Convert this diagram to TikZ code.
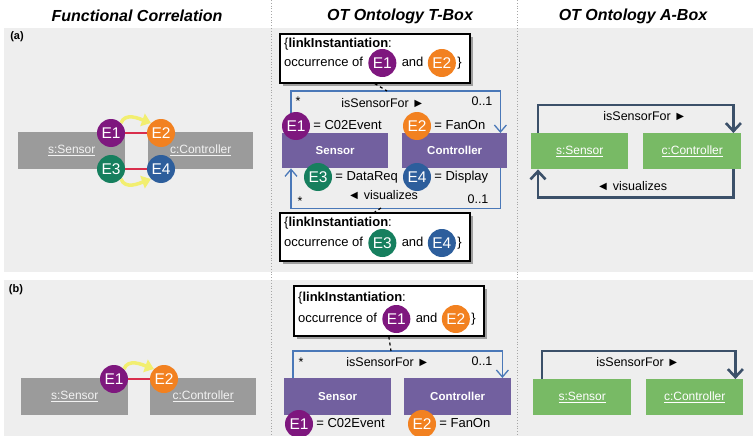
\documentclass[tikz,border=0pt]{standalone}
\usepackage{fontspec}
\setmainfont{Liberation Sans}
\usetikzlibrary{positioning,arrows.meta}

\definecolor{panelgray}{HTML}{EEEEEE}
\definecolor{boxgray}{HTML}{9B9B9B}
\definecolor{ecpurple}{HTML}{7E177E}
\definecolor{ecorange}{HTML}{F28120}
\definecolor{ecgreen}{HTML}{167F5E}
\definecolor{ecblue}{HTML}{2D5E9C}
\definecolor{corrred}{HTML}{D92E4C}
\definecolor{flowyellow}{HTML}{F2EE70}
\definecolor{tboxpurple}{HTML}{72609F}
\definecolor{tboxline}{HTML}{4A78B8}
\definecolor{aboxgreen}{HTML}{78BA65}
\definecolor{aboxline}{HTML}{3B5069}

\begin{document}
\begin{tikzpicture}[x=1pt,y=-1pt,
  title/.style={font=\fontsize{16}{18}\selectfont\bfseries\itshape},
  tag/.style={font=\fontsize{11}{13}\selectfont\bfseries},
  inst/.style={fill=boxgray,text=white!90!gray,minimum height=37pt,anchor=north west,font=\fontsize{12}{14}\selectfont},
  cls/.style={fill=tboxpurple,text=white,minimum height=35pt,anchor=north west,font=\fontsize{11.5}{14}\selectfont\bfseries},
  abox/.style={fill=aboxgreen,text=white,minimum height=36pt,anchor=north west,font=\fontsize{12}{14}\selectfont},
  ev/.style={circle,fill=#1,text=white,minimum size=28pt,inner sep=0pt,font=\fontsize{15.5}{15.5}\selectfont},
  txt/.style={inner sep=0pt,text height=9.5pt,text depth=2.5pt,font=\fontsize{13}{15}\selectfont},
  lbl/.style={inner sep=0pt,font=\fontsize{12.5}{15}\selectfont},
  note/.style={draw,line width=1.6pt,fill=white,minimum width=190pt,minimum height=49pt,anchor=north west},
  shade/.style={fill=gray!75},
  corr/.style={corrred,line width=2.6pt},
  flow/.style={flowyellow,line width=3.5pt,-{Triangle[length=9pt,width=13pt]}},
  tline/.style={tboxline,line width=1.3pt,-{Straight Barb[length=7pt,width=12pt]}},
  aline/.style={aboxline,line width=2.6pt,-{Straight Barb[length=8pt,width=15pt]}},
  link/.style={dashed,line width=1.2pt}]
\useasboundingbox (0,0) rectangle (753,436);
\fill[panelgray] (4,28) rectangle (753,272);
\fill[panelgray] (4,280) rectangle (753,436);
\draw[gray!70,dotted,line width=0.8pt] (271,0) -- (271,436);
\draw[gray!70,dotted,line width=0.8pt] (517,0) -- (517,436);

\node[title] (t1) at (137,16) {Functional Correlation};
\node[title] (t2) at (400,16) {OT Ontology T-Box};
\node[title] (t3) at (633,16) {OT Ontology A-Box};
\node[tag] (ta) at (17,37) {(a)};
\node[tag] (tb) at (16,290) {(b)};

\node[inst,minimum width=107pt] (s1) at (18,132) {\underline{s:Sensor}};
\node[inst,minimum width=105pt] (c1) at (148,132) {\underline{c:Controller}};
\node[ev=ecpurple] (e1) at (111,133) {E1};
\node[ev=ecorange] (e2) at (161,133) {E2};
\node[ev=ecgreen] (e3) at (111,169) {E3};
\node[ev=ecblue] (e4) at (161,169) {E4};
\draw[corr] (e1) -- (e2);
\draw[corr] (e3) -- (e4);
\draw[flow] (e1.north east) to[out=70,in=160] (e2.north west);
\draw[flow] (e3.south east) to[out=-70,in=-160] (e4.south west);

\node[cls,minimum width=106pt] (s2) at (282,133) {Sensor};
\node[cls,minimum width=105pt] (c2) at (402,133) {Controller};
\draw[tline] ([xshift=9pt]s2.north west) -- ++(0,-42) -| ([xshift=-7pt]c2.north east);
\draw[tline] ([xshift=-7pt]c2.south east) -- ++(0,40) -| ([xshift=9pt]s2.south west);
\node[lbl] (m1) at (298,101) {*};
\node[lbl] (r1) at (383,103) {isSensorFor ►};
\node[lbl] (k1) at (482,101) {0..1};
\node[ev=ecpurple] (e5) at (296,126) {E1};
\node[txt,right=3pt of e5] (v1) {= C02Event};
\node[ev=ecorange] (e6) at (417,126) {E2};
\node[txt,right=3pt of e6] (v2) {= FanOn};
\node[ev=ecgreen] (e7) at (318,177) {E3};
\node[txt,right=3pt of e7] (v3) {= DataReq};
\node[ev=ecblue] (e8) at (417,177) {E4};
\node[txt,right=3pt of e8] (v4) {= Display};
\node[lbl] (r2) at (383,195) {◄ visualizes};
\node[lbl] (m2) at (300,201) {*};
\node[lbl] (k2) at (478,199) {0..1};

\fill[shade] (283,37) rectangle (473,86);
\node[note] (n1) at (279,33) {};
\coordinate (d1) at (387,91);
\draw[link] (n1.south) -- (d1);
\node[txt,anchor=west] (n1a) at (284,44) {\{\textbf{linkInstantiation}:};
\node[txt,anchor=west] (n1b) at (284,63) {occurrence of};
\node[ev=ecpurple,right=5pt of n1b] (n1c) {E1};
\node[txt,right=5pt of n1c] (n1d) {and};
\node[ev=ecorange,right=4pt of n1d] (n1e) {E2};
\node[txt,right=1pt of n1e] (n1f) {\}};

\coordinate (d2) at (381,208);
\fill[shade] (283,216) rectangle (473,264);
\node[note,minimum height=48pt] (n2) at (279,212) {};
\draw[link] (d2) -- (n2.north);
\node[txt,anchor=west] (n2a) at (284,223) {\{\textbf{linkInstantiation}:};
\node[txt,anchor=west] (n2b) at (284,243) {occurrence of};
\node[ev=ecgreen,right=5pt of n2b] (n2c) {E3};
\node[txt,right=5pt of n2c] (n2d) {and};
\node[ev=ecblue,right=4pt of n2d] (n2e) {E4};
\node[txt,right=1pt of n2e] (n2f) {\}};

\node[abox,minimum width=97pt] (s3) at (531,133) {\underline{s:Sensor}};
\node[abox,minimum width=98pt] (c3) at (643,133) {\underline{c:Controller}};
\draw[aline] ([xshift=7pt]s3.north west) -- ++(0,-28) -| ([xshift=-8pt]c3.north east);
\draw[aline] ([xshift=-8pt]c3.south east) -- ++(0,28) -| ([xshift=7pt]s3.south west);
\node[lbl] (r3) at (645,116) {isSensorFor ►};
\node[lbl] (r4) at (632,186) {◄ visualizes};

\node[inst,minimum width=107pt] (s4) at (21,378) {\underline{s:Sensor}};
\node[inst,minimum width=106pt] (c4) at (150,378) {\underline{c:Controller}};
\node[ev=ecpurple] (e9) at (114,379) {E1};
\node[ev=ecorange] (e10) at (164,379) {E2};
\draw[corr] (e9) -- (e10);
\draw[flow] (e9.north east) to[out=70,in=160] (e10.north west);

\node[cls,minimum width=107pt,minimum height=37pt] (s5) at (284,378) {Sensor};
\node[cls,minimum width=107pt,minimum height=37pt] (c5) at (404,378) {Controller};
\draw[tline] ([xshift=9pt]s5.north west) -- ++(0,-27) -| ([xshift=-9pt]c5.north east);
\node[lbl] (m3) at (301,362) {*};
\node[lbl] (r5) at (388,362) {isSensorFor ►};
\node[lbl] (k3) at (482,361) {0..1};
\node[ev=ecpurple] (e11) at (299,424) {E1};
\node[txt,right=3pt of e11] (v5) {= C02Event};
\node[ev=ecorange] (e12) at (422,424) {E2};
\node[txt,right=3pt of e12] (v6) {= FanOn};

\fill[shade] (297,289) rectangle (487,339);
\node[note,minimum height=50pt] (n3) at (293,285) {};
\coordinate (d3) at (391,351);
\draw[link] (n3.south) -- (d3);
\node[txt,anchor=west] (n3a) at (298,298) {\{\textbf{linkInstantiation}:};
\node[txt,anchor=west] (n3b) at (298,319) {occurrence of};
\node[ev=ecpurple,right=5pt of n3b] (n3c) {E1};
\node[txt,right=5pt of n3c] (n3d) {and};
\node[ev=ecorange,right=4pt of n3d] (n3e) {E2};
\node[txt,right=1pt of n3e] (n3f) {\}};

\node[abox,minimum width=98pt] (s6) at (533,379) {\underline{s:Sensor}};
\node[abox,minimum width=97pt] (c6) at (646,379) {\underline{c:Controller}};
\draw[aline] ([xshift=9pt]s6.north west) -- ++(0,-28) -| ([xshift=-8pt]c6.north east);
\node[lbl] (r6) at (638,362) {isSensorFor ►};
\end{tikzpicture}
\end{document}
